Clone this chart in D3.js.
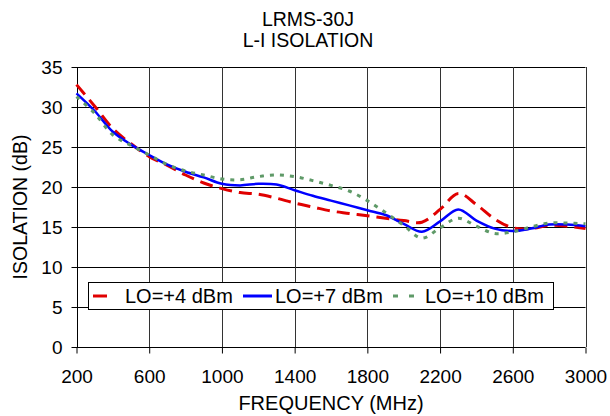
<!DOCTYPE html>
<html><head><meta charset="utf-8">
<script src="https://cdn.jsdelivr.net/npm/d3@7/dist/d3.min.js"></script>
<style>body{margin:0;background:#fff}svg{display:block}text{font-family:"Liberation Sans",Arial,sans-serif;fill:#000}</style>
</head><body><svg id="c" width="610" height="416"></svg>
<script>
const freqs = [200,300,400,500,600,700,800,900,1000,1100,1200,1300,1400,1500,1600,1700,1800,1900,2000,2100,2200,2300,2400,2500,2600,2700,2800,2900,3000];
const lo4  = [32.8,30.1,27.3,25.4,23.8,22.7,21.5,20.5,19.8,19.3,19.1,18.6,18.0,17.5,17.0,16.7,16.4,16.1,15.8,15.6,17.2,19.2,17.8,16.0,14.9,14.8,15.2,15.1,14.8];
const lo7  = [31.7,29.5,26.9,25.3,24.0,22.8,21.9,21.2,20.4,20.2,20.4,20.3,19.6,18.9,18.3,17.7,17.1,16.5,15.4,14.4,15.7,17.2,15.8,14.8,14.5,14.8,15.3,15.3,15.1];
const lo10 = [31.3,29.2,26.5,25.2,24.0,22.8,22.0,21.5,21.0,20.9,21.3,21.5,21.3,20.8,20.2,19.5,18.3,16.8,15.2,13.6,14.9,16.1,15.1,14.2,14.4,15.0,15.5,15.5,15.4];
const seriesNames = ["LO=+4 dBm","LO=+7 dBm","LO=+10 dBm"];
const xTicks = [200,600,1000,1400,1800,2200,2600,3000];
const yTicks = [0,5,10,15,20,25,30,35];
const titleLines = ["LRMS-30J","L-I ISOLATION"];

const svg = d3.select("#c");
const L=76.5, R=585.5, T=67, B=347;
const x = d3.scaleLinear().domain([200,3000]).range([L,R]);
const y = d3.scaleLinear().domain([0,35]).range([B,T]);
const fs = 19;

// grid
svg.append("g").selectAll("line").data(yTicks).join("line")
  .attr("x1",L).attr("x2",R).attr("y1",d=>Math.round(y(d))+0.5).attr("y2",d=>Math.round(y(d))+0.5)
  .attr("stroke","#000").attr("stroke-width",1);
svg.append("g").selectAll("line").data(xTicks).join("line")
  .attr("y1",T).attr("y2",B).attr("x1",d=>Math.round(x(d))+0.5).attr("x2",d=>Math.round(x(d))+0.5)
  .attr("stroke","#333").attr("stroke-width",1);

// axes
const xa = svg.append("g").attr("transform",`translate(0,${Math.round(B)+0.5})`)
  .call(d3.axisBottom(x).tickValues(xTicks).tickSize(6).tickPadding(16.5).tickFormat(d3.format("d")));
const ya = svg.append("g").attr("transform",`translate(${Math.round(L)+0.5},0)`)
  .call(d3.axisLeft(y).tickValues(yTicks).tickSize(6).tickPadding(9));
[xa,ya].forEach(a=>{a.select(".domain").remove();a.selectAll("line").attr("stroke","#000");
  a.selectAll("text").attr("font-size",fs).attr("font-family","Liberation Sans, Arial, sans-serif").attr("fill","#000");});
ya.selectAll("text").attr("dy","0.35em");
svg.append("line").attr("x1",Math.round(L)+0.5).attr("x2",Math.round(L)+0.5).attr("y1",T).attr("y2",B).attr("stroke","#000");

// series
const styles = [
  {data:lo4, color:"#e00000", w:3, dash:"13,7"},
  {data:lo7, color:"#0000ff", w:2.5, dash:null},
  {data:lo10,color:"#5f9a68", w:3, dash:"4,6"}
];
const line = d3.line().x(d=>x(d[0])).y(d=>y(d[1])).curve(d3.curveCatmullRom.alpha(0.5));
styles.forEach(s=>{
  svg.append("path").datum(freqs.map((f,i)=>[f,s.data[i]]))
    .attr("d",line).attr("fill","none").attr("stroke",s.color).attr("stroke-width",s.w)
    .attr("stroke-dasharray",s.dash);
});

// legend
const lg = svg.append("g");
lg.append("rect").attr("x",88.5).attr("y",282.5).attr("width",465).attr("height",27)
  .attr("fill","#fff").attr("stroke","#000").attr("stroke-width",1);
const lx = [{s:93,e:112,t:125},{s:243,e:272,t:275},{s:393,e:415,t:425}];
const legDash = ["14,7",null,"5,11"];
seriesNames.forEach((n,i)=>{
  lg.append("line").attr("x1",lx[i].s).attr("x2",lx[i].e).attr("y1",296).attr("y2",296)
    .attr("stroke",styles[i].color).attr("stroke-width",3).attr("stroke-dasharray",legDash[i]);
  lg.append("text").attr("x",lx[i].t).attr("y",303.3).attr("font-size",20).text(n);
});

// titles
svg.selectAll("text.title").data(titleLines).join("text").attr("class","title")
  .attr("x",308).attr("y",(d,i)=>26+i*20.7).attr("text-anchor","middle").attr("font-size",19.5).text(d=>d);
svg.append("text").attr("x",(L+R)/2).attr("y",409.5).attr("text-anchor","middle").attr("font-size",20).text("FREQUENCY (MHz)");
svg.append("text").attr("transform",`translate(27,${(T+B)/2}) rotate(-90)`).attr("text-anchor","middle").attr("font-size",19.5).text("ISOLATION (dB)");
</script></body></html>
